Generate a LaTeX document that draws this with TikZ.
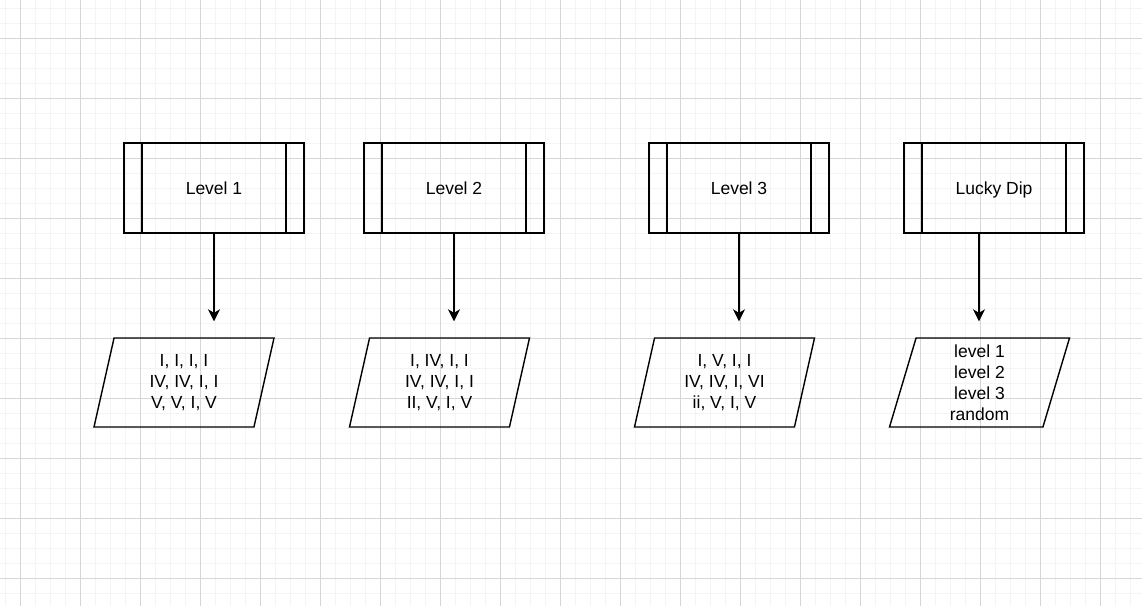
\documentclass[tikz,border=0pt]{standalone}
\usepackage{fontspec}
\setmainfont{Liberation Sans}
\usepackage{xcolor}
\usepackage{tikz}
\usetikzlibrary{shapes.geometric, arrows.meta}
\definecolor{gridmajor}{RGB}{214,214,214}
\definecolor{gridminor}{RGB}{244,244,244}
\tikzstyle{subproc} = [rectangle, minimum width=180pt, minimum height=90pt, outer sep=0pt, text height=14pt, text depth=2pt, text centered, draw=black, line width=1.4pt]
\tikzstyle{io} = [trapezium, trapezium left angle=71.6, trapezium right angle=108.4, trapezium stretches body, minimum width=180pt, minimum height=89pt, inner sep=2pt, align=center, draw=black, line width=1.4pt]
\tikzstyle{arrow} = [line width=1.4pt, -{Stealth[length=12pt, width=12pt, inset=3.5pt]}]

\begin{document}
\begin{tikzpicture}[x=1pt, y=-1pt, font=\fontsize{17.5}{21}\selectfont]
   \useasboundingbox (0,0) rectangle (1142,606);
   % background grid
   \fill[white] (0,0) rectangle (1142,606);
   \foreach \x in {5,20,...,1140} \draw[gridminor, line width=1pt] (\x,0) -- (\x,606);
   \foreach \y in {8,23,...,605} \draw[gridminor, line width=1pt] (0,\y) -- (1142,\y);
   \foreach \x in {20,80,...,1140} \draw[gridmajor, line width=1pt] (\x,0) -- (\x,606);
   \foreach \y in {38,98,...,605} \draw[gridmajor, line width=1pt] (0,\y) -- (1142,\y);
   % levels
   \node (lvA) [subproc] at (214,188) {Level 1};
   \node (lvB) [subproc] at (454,188) {Level 2};
   \node (lvC) [subproc] at (739,188) {Level 3};
   \node (dip) [subproc] at (994,188) {Lucky Dip};
   \foreach \b in {lvA,lvB,lvC,dip} {
      \draw [line width=1.4pt] ([xshift=18pt]\b.north west) -- ([xshift=18pt]\b.south west);
      \draw [line width=1.4pt] ([xshift=-18pt]\b.north east) -- ([xshift=-18pt]\b.south east);
   }
   % chord sequences
   \node (chA) [io] at (184,382.5) {I, I, I, I\\IV, IV, I, I\\V, V, I, V};
   \node (chB) [io] at (439.5,382.5) {I, IV, I, I\\IV, IV, I, I\\II, V, I, V};
   \node (chC) [io] at (724.5,382.5) {I, V, I, I\\IV, IV, I, VI\\ii, V, I, V};
   \node (chD) [io] at (979.5,382.5) {level 1\\level 2\\level 3\ \\random};
   \draw [arrow] (lvA.south) -- ([yshift=16pt]lvA.south |- chA.north);
   \draw [arrow] (lvB.south) -- ([yshift=16pt]lvB.south |- chB.north);
   \draw [arrow] (lvC.south) -- ([yshift=16pt]lvC.south |- chC.north);
   \draw [arrow] ([xshift=-15pt]dip.south) -- ([xshift=-15pt, yshift=16pt]dip.south |- chD.north);
\end{tikzpicture}
\end{document}
